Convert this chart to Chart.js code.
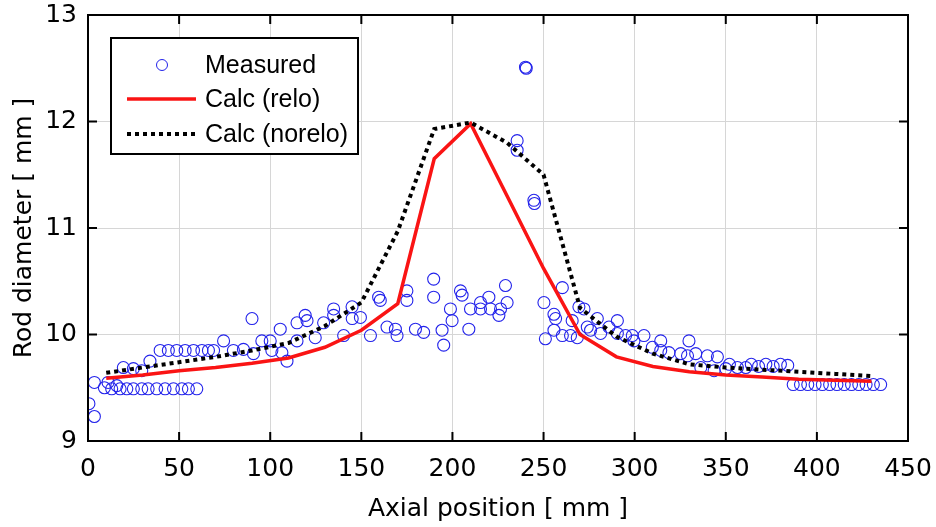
<!DOCTYPE html>
<html>
<head>
<meta charset="utf-8">
<script src="https://cdn.jsdelivr.net/npm/chart.js@4.4.1/dist/chart.umd.min.js"></script>
<style>
  html, body { margin: 0; padding: 0; background: #fff; }
  canvas { display: block; }
</style>
</head>
<body>
<canvas id="graphe" width="936" height="527"></canvas>
<script>
// mesures : position axiale (mm) et diametre (mm)
var measX = [
  0.5, 3.5, 3.5, 9, 11, 13, 15.8, 17.6, 19.4, 21.3,
  24.9, 24.9, 29.5, 29.5, 33, 34, 37.7, 39.6, 42.3, 44.1,
  46.9, 48.7, 51.5, 53.3, 55.1, 57.9, 59.7, 62.5, 66.1, 68.9,
  74.4, 79.8, 85.3, 90, 90.8, 95.4, 100, 100.9, 105.5, 106.4,
  109.2, 114.7, 114.7, 119.2, 120.2, 124.7, 129.3, 134.8, 134.8, 140.3,
  144.9, 145, 149.5, 155, 159.5, 160.4, 164.1, 168.7, 169.6, 175,
  175, 179.7, 184.2, 189.7, 189.7, 194.3, 195.2, 198.9, 199.8, 204.4,
  205.3, 209, 209.9, 215.4, 215.4, 220, 220.9, 225.5, 226.4, 229.1,
  230, 235.5, 235.5, 240.1, 240.5, 244.7, 245, 250.2, 251, 255.7,
  256.6, 255.7, 260.3, 260.3, 264.8, 265.7, 269.4, 268.5, 272.2, 274,
  275.8, 279.5, 281.3, 285.9, 290.5, 290.5, 295, 298.7, 299.6, 305.1,
  309.7, 314.3, 314.3, 318.8, 325.3, 329.8, 329, 333.5, 336.3, 339.9,
  343.6, 345.4, 350, 352, 356.4, 361, 364, 368, 372, 376,
  380, 384, 387, 391, 395, 399, 403, 407, 411, 415,
  419, 423, 427, 431, 435
];
var measY = [
  9.35, 9.23, 9.55, 9.5, 9.55, 9.49, 9.52, 9.49, 9.69, 9.49,
  9.68, 9.49, 9.66, 9.49, 9.49, 9.75, 9.49, 9.85, 9.49, 9.85,
  9.49, 9.85, 9.49, 9.85, 9.49, 9.85, 9.49, 9.85, 9.85, 9.85,
  9.94, 9.85, 9.86, 10.15, 9.82, 9.94, 9.94, 9.85, 10.05, 9.83,
  9.75, 10.11, 9.94, 10.18, 10.13, 9.97, 10.11, 10.24, 10.18, 9.99,
  10.26, 10.15, 10.16, 9.99, 10.35, 10.32, 10.07, 10.05, 9.99, 10.41,
  10.32, 10.05, 10.02, 10.52, 10.35, 10.04, 9.9, 10.24, 10.13, 10.41,
  10.37, 10.05, 10.24, 10.3, 10.24, 10.35, 10.24, 10.18, 10.24, 10.46,
  10.3, 11.82, 11.73, 12.51, 12.5, 11.26, 11.23, 10.3, 9.96, 10.19,
  10.15, 10.04, 10.44, 9.99, 9.99, 10.13, 10.26, 9.97, 10.24, 10.07,
  10.04, 10.15, 10.01, 10.07, 10.13, 10.01, 9.99, 9.99, 9.94, 9.99,
  9.88, 9.94, 9.85, 9.83, 9.82, 9.94, 9.8, 9.82, 9.69, 9.8,
  9.66, 9.79, 9.68, 9.72, 9.69, 9.69, 9.72, 9.7, 9.72, 9.7,
  9.72, 9.71, 9.53, 9.53, 9.53, 9.53, 9.53, 9.53, 9.53, 9.53,
  9.53, 9.53, 9.53, 9.53, 9.53
];

// calculs : memes positions pour les deux courbes
var calcX = [10, 30, 50, 70, 90, 110, 130, 150, 170, 190, 210,
             230, 250, 270, 290, 310, 330, 350, 370, 390, 410, 430];
var reloY = [9.59, 9.62, 9.66, 9.69, 9.73, 9.78, 9.88, 10.04, 10.29, 11.65, 11.98,
             11.3, 10.62, 10.0, 9.79, 9.7, 9.65, 9.62, 9.6, 9.58, 9.57, 9.56];
var noreloY = [9.64, 9.69, 9.74, 9.79, 9.85, 9.92, 10.08, 10.3, 10.97, 11.93, 11.99,
               11.8, 11.5, 10.25, 9.98, 9.82, 9.72, 9.69, 9.67, 9.65, 9.63, 9.61];

var xTicks = [0, 50, 100, 150, 200, 250, 300, 350, 400, 450];
var yTicks = [9, 10, 11, 12, 13];

var policeAxes = '"DejaVu Sans", sans-serif';
var policeLegende = '"Liberation Sans", Arial, sans-serif';

function points(xs, ys) {
    var res = [];
    for (var i = 0; i < xs.length; i++) {
        res.push({ x: xs[i], y: ys[i] });
    }
    return res;
}

// cadre noir, petites graduations vers l'interieur, legende encadree
var cadrePlugin = {
    id: 'cadre',
    afterDatasetsDraw: function (chart) {
        var ctx = chart.ctx;
        var a = chart.chartArea;
        var sx = chart.scales.x, sy = chart.scales.y;
        ctx.save();
        ctx.strokeStyle = '#000';
        ctx.lineWidth = 2;
        ctx.beginPath();
        xTicks.forEach(function (v) {
            var px = sx.getPixelForValue(v);
            ctx.moveTo(px, a.bottom); ctx.lineTo(px, a.bottom - 9);
            ctx.moveTo(px, a.top); ctx.lineTo(px, a.top + 9);
        });
        yTicks.forEach(function (v) {
            var py = sy.getPixelForValue(v);
            ctx.moveTo(a.left, py); ctx.lineTo(a.left + 9, py);
            ctx.moveTo(a.right, py); ctx.lineTo(a.right - 9, py);
        });
        ctx.stroke();
        ctx.strokeRect(a.left, a.top, a.right - a.left, a.bottom - a.top);

        // legende
        var lx = a.left + 23, ly = a.top + 23, lw = 247, lh = 116;
        ctx.fillStyle = '#fff';
        ctx.fillRect(lx, ly, lw, lh);
        ctx.strokeRect(lx, ly, lw, lh);
        ctx.font = '25px ' + policeLegende;
        ctx.fillStyle = '#000';
        ctx.textBaseline = 'middle';
        ctx.textAlign = 'left';
        var ds = chart.data.datasets;
        var rows = [ly + 27, ly + 61, ly + 96];
        for (var i = 0; i < ds.length; i++) {
            var y = rows[i];
            if (i === 0) {
                ctx.strokeStyle = ds[i].borderColor;
                ctx.lineWidth = 1;
                ctx.beginPath();
                ctx.arc(lx + 51, y, 5.5, 0, Math.PI * 2);
                ctx.stroke();
            } else {
                ctx.strokeStyle = ds[i].borderColor;
                ctx.lineWidth = ds[i].borderWidth;
                ctx.setLineDash(ds[i].borderDash || []);
                ctx.beginPath();
                ctx.moveTo(lx + 16, y);
                ctx.lineTo(lx + 85, y);
                ctx.stroke();
                ctx.setLineDash([]);
            }
            ctx.fillText(ds[i].label, lx + 94, y + 1);
        }
        ctx.restore();
    }
};

var ctx = document.getElementById('graphe').getContext('2d');
var graphe = new Chart(ctx, {
    type: 'scatter',
    data: {
        datasets: [{
            label: 'Measured',
            data: points(measX, measY),
            borderColor: 'rgb(35, 35, 235)',
            backgroundColor: 'rgba(0, 0, 0, 0)',
            borderWidth: 1.1,
            pointRadius: 6,
            order: 3
        }, {
            label: 'Calc (relo)',
            data: points(calcX, reloY),
            showLine: true,
            borderColor: 'rgb(250, 20, 20)',
            borderWidth: 3.5,
            pointRadius: 0,
            order: 2
        }, {
            label: 'Calc (norelo)',
            data: points(calcX, noreloY),
            showLine: true,
            borderColor: '#000',
            borderWidth: 4,
            borderDash: [4, 4],
            borderCapStyle: 'butt',
            pointRadius: 0,
            order: 1
        }]
    },
    options: {
        responsive: false,
        animation: false,
        devicePixelRatio: 1,
        layout: { padding: { top: 15, right: 28, left: 0, bottom: 0 } },
        plugins: {
            legend: { display: false },
            tooltip: { enabled: false }
        },
        scales: {
            x: {
                type: 'linear',
                position: 'bottom',
                min: 0,
                max: 450,
                afterBuildTicks: function (s) { s.ticks = xTicks.map(function (v) { return { value: v }; }); },
                afterFit: function (s) { s.height = 86; },
                grid: { color: '#d6d6d6', lineWidth: 1, drawTicks: true, tickLength: 13, tickColor: 'rgba(0,0,0,0)' },
                border: { display: false },
                ticks: { color: '#000', font: { family: policeAxes, size: 25 }, padding: 0, maxRotation: 0 },
                title: { display: true, text: 'Axial position [ mm ]', color: '#000',
                         font: { family: policeAxes, size: 25 }, padding: { top: 0, bottom: 3 } }
            },
            y: {
                type: 'linear',
                position: 'left',
                min: 9,
                max: 13,
                afterBuildTicks: function (s) { s.ticks = yTicks.map(function (v) { return { value: v }; }); },
                afterFit: function (s) { s.width = 88; },
                grid: { color: '#d6d6d6', lineWidth: 1, drawTicks: true, tickLength: 11, tickColor: 'rgba(0,0,0,0)' },
                border: { display: false },
                ticks: { color: '#000', font: { family: policeAxes, size: 25 }, padding: 0 },
                title: { display: true, text: 'Rod diameter [ mm ]', color: '#000',
                         font: { family: policeAxes, size: 25 }, padding: { top: 9, bottom: 0 } }
            }
        }
    },
    plugins: [cadrePlugin]
});
</script>
</body>
</html>
